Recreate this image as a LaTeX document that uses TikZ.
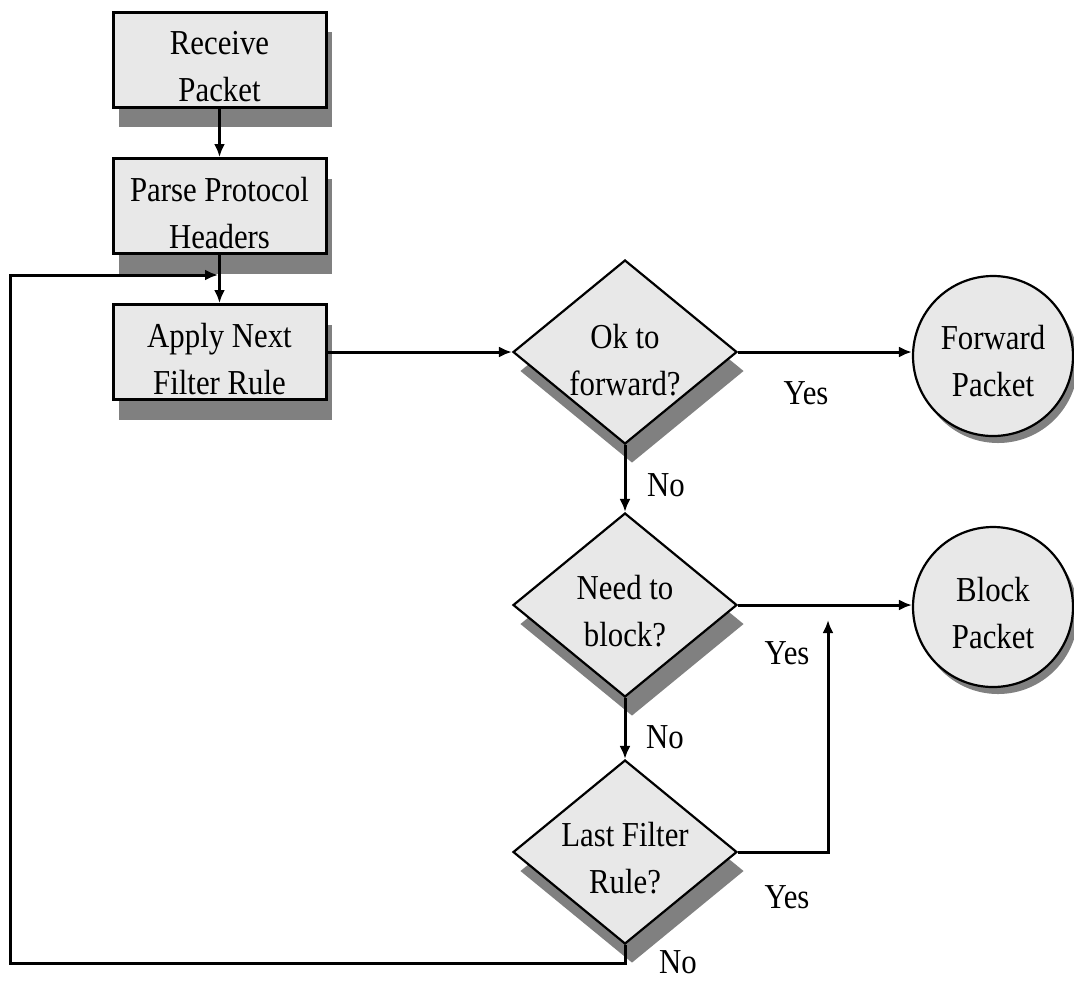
\documentclass[tikz,border=0pt]{standalone}
\usepackage{fontspec}
\setmainfont{Liberation Serif}[FakeStretch=0.88]
\usetikzlibrary{shapes.geometric,shadows,arrows.meta}
\definecolor{boxfill}{RGB}{232,232,232}
\definecolor{shadowc}{RGB}{128,128,128}
\begin{document}
\begin{tikzpicture}[x=0.5pt,y=-0.5pt,
  every node/.style={font=\fontsize{17.5pt}{23.5pt}\selectfont},
  txt/.style={align=center,inner sep=0pt},
  stepbox/.style={rectangle,draw=black,line width=1.5pt,fill=boxfill,
    minimum width=106.5pt,minimum height=47.5pt,inner sep=0pt,
    drop shadow={shadow xshift=3pt,shadow yshift=-10pt,fill=shadowc,opacity=1}},
  decision/.style={diamond,draw=black,line width=1.1pt,fill=boxfill,
    minimum width=112pt,minimum height=92pt,inner sep=0pt,
    drop shadow={shadow xshift=3.5pt,shadow yshift=-9.5pt,fill=shadowc,opacity=1}},
  endstate/.style={circle,draw=black,line width=1.1pt,fill=boxfill,
    minimum size=80pt,inner sep=0pt,
    drop shadow={shadow xshift=2.5pt,shadow yshift=-3.5pt,fill=shadowc,opacity=1}},
  conn/.style={line width=1.5pt,-{Latex[length=6.5pt,width=5.5pt]}},
  lbl/.style={inner sep=0pt}]
\useasboundingbox (0,0) rectangle (1074,981);
% boxes
\node[stepbox] (recv) at (219.5,59.5) {};
\node[txt] (recvt) at (219.5,67) {Receive\\Packet};
\node[stepbox] (parse) at (219.5,206) {};
\node[txt] (parset) at (219.5,213.5) {Parse Protocol\\Headers};
\node[stepbox] (apply) at (219.5,352) {};
\node[txt] (applyt) at (219.5,359.5) {Apply Next\\Filter Rule};
% decisions
\node[decision] (okd) at (625,352) {};
\node[txt] (okdt) at (625,360.5) {Ok to\\forward?};
\node[decision] (needd) at (625,605) {};
\node[txt] (neeedt) at (625,611.5) {Need to\\block?};
\node[decision] (lastd) at (625,852) {};
\node[txt] (lastdt) at (625,858.5) {Last Filter\\Rule?};
% end states
\node[endstate] (fwd) at (993,356) {};
\node[txt] (fwdt) at (993,361.5) {Forward\\Packet};
\node[endstate] (blk) at (993,607) {};
\node[txt] (blkt) at (993,613.5) {Block\\Packet};
% connectors
\draw[conn] (recv.south) -- (parse.north);
\draw[conn] (parse.south) -- (apply.north);
\draw[conn] (apply.east) -- (okd.west);
\draw[conn] (okd.east) -- (okd.east -| fwd.west);
\draw[conn] (okd.south) -- (needd.north);
\draw[conn] (needd.east) -- (needd.east -| blk.west);
\draw[conn] (needd.south) -- (lastd.north);
\coordinate (yesup) at (828,620);
\draw[conn] (lastd.east) -| (yesup);
\coordinate (loopx) at (10,963);
\coordinate (loopin) at (218,275);
\draw[conn] (lastd.south) |- (loopx) |- (loopin);
% labels
\node[lbl] (y1) at (806,393) {Yes};
\node[lbl] (n1) at (666,485) {No};
\node[lbl] (y2) at (787,653) {Yes};
\node[lbl] (n2) at (665,737) {No};
\node[lbl] (y3) at (787,897) {Yes};
\node[lbl] (n3) at (678,962) {No};
\end{tikzpicture}
\end{document}
